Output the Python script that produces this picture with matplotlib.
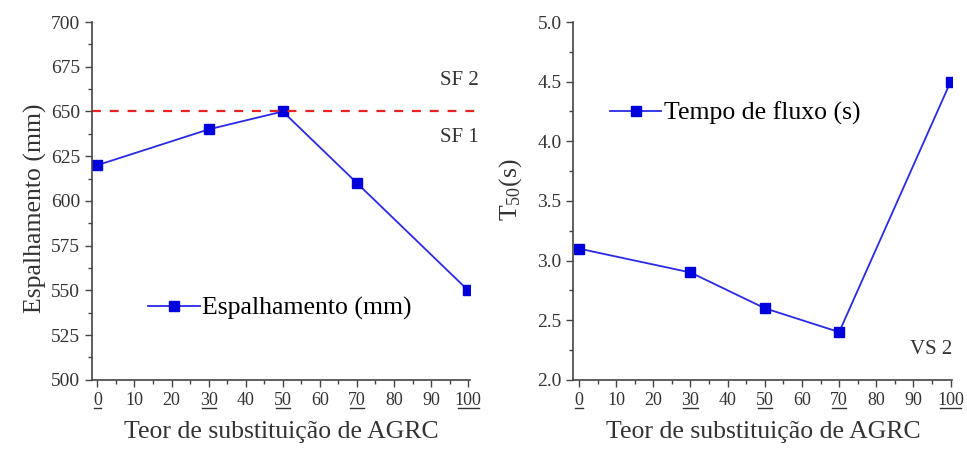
import matplotlib
matplotlib.use("Agg")
import matplotlib.pyplot as plt
import matplotlib.transforms as mtransforms
from matplotlib.ticker import MultipleLocator, FormatStrFormatter

plt.rcParams['font.family'] = ['Liberation Serif', 'DejaVu Serif']
plt.rcParams['mathtext.fontset'] = 'custom'
plt.rcParams['mathtext.rm'] = 'Liberation Serif'
plt.rcParams['mathtext.it'] = 'Liberation Serif:italic'
plt.rcParams['mathtext.default'] = 'rm'

teor = [0, 30, 50, 70, 100]
espalhamento = [620, 640, 650, 610, 550]
tempo_fluxo = [3.1, 2.9, 2.6, 2.4, 4.5]
x_ticks = [0, 10, 20, 30, 40, 50, 60, 70, 80, 90, 100]
underlined = [0, 30, 50, 70, 100]
sf_limit = 650

fig = plt.figure(figsize=(9.67, 4.5), dpi=100)
ax1 = fig.add_axes([0.095, 0.156, 0.391, 0.795])
ax2 = fig.add_axes([0.593, 0.156, 0.392, 0.795])

line_kw = dict(color='#2a2ae6', lw=1.3, marker='s', markersize=7,
               markerfacecolor='#0000dd', markeredgecolor='#0000dd')

def style(ax):
    for s in ['top', 'right']:
        ax.spines[s].set_visible(False)
    for s in ['left', 'bottom']:
        ax.spines[s].set_color('#444444')
        ax.spines[s].set_linewidth(1.2)
    ax.set_xlim(-1.5, 100.5)
    ax.set_xticks(x_ticks)
    ax.xaxis.set_minor_locator(MultipleLocator(5))
    ax.tick_params(which='major', length=5, width=1, colors='#444444',
                   labelcolor='#333333')
    ax.tick_params(axis='x', labelsize=13)
    ax.tick_params(axis='y', labelsize=14)
    ax.tick_params(which='minor', length=3, width=1, colors='#444444')
    ax.set_xlabel('Teor de substituição de AGRC', fontsize=18.5, color='#333333', labelpad=9)
    # underline the tested contents under the tick labels
    trans = mtransforms.blended_transform_factory(ax.transData, ax.transAxes)
    for t in underlined:
        hw = 0.95 * len(str(t))
        ax.plot([t - hw, t + hw], [-0.079, -0.079], transform=trans, color='#333333',
                lw=1, clip_on=False)

# left panel
ax1.plot(teor, espalhamento, label='Espalhamento (mm)', **line_kw)
ax1.axhline(sf_limit, xmin=0, xmax=1.03, color='#ee2222', lw=1.6, ls=(0, (4, 4)), clip_on=False)
ax1.set_ylim(500, 700)
ax1.yaxis.set_major_locator(MultipleLocator(25))
ax1.yaxis.set_minor_locator(MultipleLocator(12.5))
style(ax1)
ax1.set_ylabel('Espalhamento (mm)', fontsize=18.5, color='#333333')
ax1.yaxis.set_label_coords(-0.118, 0.48)
ax1.text(0.92, 0.838, 'SF 2', transform=ax1.transAxes, fontsize=15, color='#333333',
         ha='left', va='center', clip_on=False)
ax1.text(0.92, 0.676, 'SF 1', transform=ax1.transAxes, fontsize=15, color='#333333',
         ha='left', va='center', clip_on=False)
ax1.legend(loc='center left', bbox_to_anchor=(0.122, 0.2), frameon=False, fontsize=18.5,
           handlelength=2.0, handletextpad=0.1, borderaxespad=0)

# right panel
ax2.plot(teor, tempo_fluxo, label='Tempo de fluxo (s)', **line_kw)
ax2.set_ylim(2.0, 5.0)
ax2.yaxis.set_major_locator(MultipleLocator(0.5))
ax2.yaxis.set_minor_locator(MultipleLocator(0.25))
ax2.yaxis.set_major_formatter(FormatStrFormatter('%.1f'))
style(ax2)
ax2.set_ylabel(r'T$_{50}$(s)', fontsize=18.5, color='#333333')
ax2.yaxis.set_label_coords(-0.13, 0.53)
ax2.text(1.0, 0.084, 'VS 2', transform=ax2.transAxes, fontsize=15, color='#333333',
         ha='right', va='center')
ax2.legend(loc='center left', bbox_to_anchor=(0.069, 0.745), frameon=False, fontsize=18.5,
           handlelength=2.0, handletextpad=0.1, borderaxespad=0)

fig.savefig('out.png', dpi=100)
